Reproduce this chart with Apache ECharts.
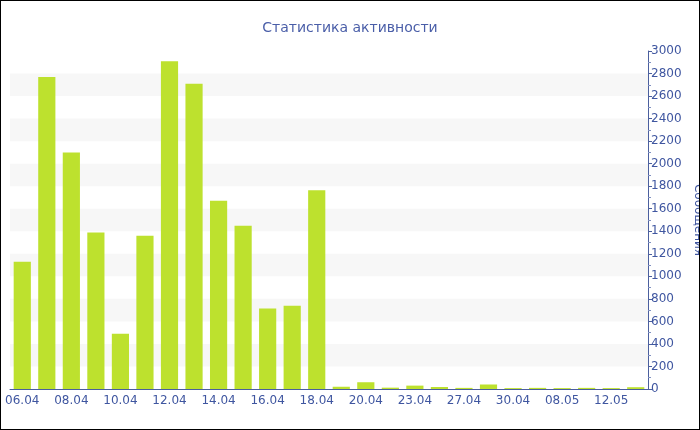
<!DOCTYPE html>
<html><head><meta charset="utf-8">
<script src="https://cdn.jsdelivr.net/npm/echarts@6/dist/echarts.min.js"></script>
<style>html,body{margin:0;padding:0;background:#fff}#c{width:700px;height:430px;box-sizing:border-box;border:1px solid #000}</style>
</head><body><div id="c"></div>
<script>
const categories = ['06.04','07.04','08.04','09.04','10.04','11.04','12.04','13.04','14.04','15.04','16.04','17.04','18.04','19.04','20.04','21.04','23.04','25.04','27.04','28.04','30.04','05.05','08.05','10.05','12.05','14.05'];
const messages = [1130,2770,2100,1390,490,1360,2910,2710,1670,1450,715,740,1765,20,60,12,30,18,10,40,8,10,8,10,8,16];
const yTicks = {min:0, max:3000, interval:200};
const textColor = '#3f56a0';
const chart = echarts.init(document.getElementById('c'));
chart.setOption({
  animation:false,
  textStyle:{fontFamily:'DejaVu Sans'},
  title:{text:'Статистика активности', left:'center', top:15, textStyle:{color:'#4a5ea8', fontSize:14, fontWeight:'normal', fontFamily:'DejaVu Sans'}},
  grid:{left:9, right:51, top:50, bottom:40, containLabel:false, outerBoundsMode:'none'},
  xAxis:{type:'category', data:categories,
    axisLine:{lineStyle:{color:'#4b5f9e', width:1}},
    axisTick:{interval:1, alignWithLabel:true, length:4, lineStyle:{color:'#4b5f9e'}},
    axisLabel:{interval:1, color:textColor, fontSize:12, margin:6, fontFamily:'DejaVu Sans'}},
  yAxis:{type:'value', position:'right', min:yTicks.min, max:yTicks.max, interval:yTicks.interval,
    name:'Сообщения', nameLocation:'middle', nameRotate:-90, nameGap:43,
    nameTextStyle:{color:textColor, fontSize:12, fontFamily:'DejaVu Sans'},
    axisLine:{show:true, lineStyle:{color:'#4b5f9e'}},
    axisTick:{show:true, length:4, lineStyle:{color:'#4b5f9e'}},
    minorTick:{show:true, splitNumber:2, length:3, lineStyle:{color:'#8090c0'}},
    axisLabel:{color:textColor, fontSize:12, margin:3, fontFamily:'DejaVu Sans', formatter:function(v){return String(v);}},
    splitLine:{show:false},
    splitArea:{show:true, areaStyle:{color:['rgba(255,255,255,0)','#f7f7f7']}}},
  series:[{type:'bar', data:messages, barCategoryGap:'30%', itemStyle:{color:'#bde12e'}}]
});
</script></body></html>
